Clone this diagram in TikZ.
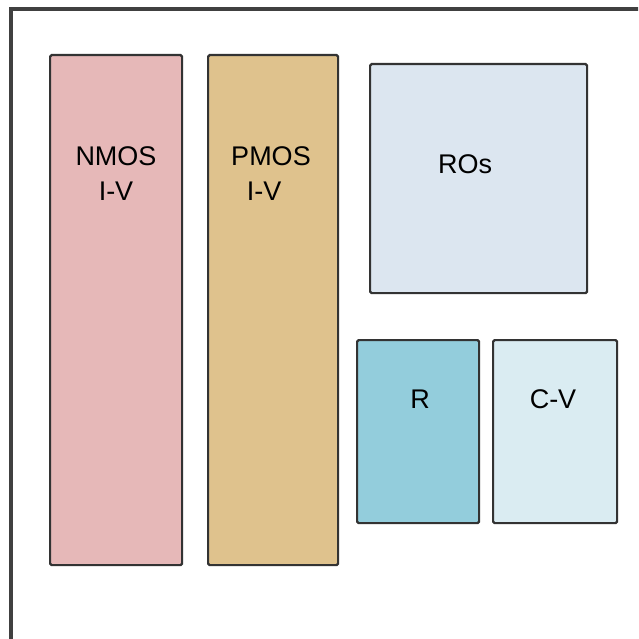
\documentclass[tikz,border=0pt]{standalone}
\usepackage{fontspec}
\setmainfont{Liberation Sans}
\begin{document}
\begin{tikzpicture}[x=1pt,y=-1pt,
  blk/.style={draw=black!80, line width=2.2pt, rounded corners=1.5pt, inner sep=0pt, anchor=north west},
  lbl/.style={font=\fontsize{27}{33}\selectfont, text=black, inner sep=0pt, align=center},
  frame/.style={draw=black!75, line width=3.2pt}]
\useasboundingbox (0,0) rectangle (638,639);
\begin{scope}
\clip (0,0) rectangle (638,639);
\coordinate (fbl) at (11,660);
\coordinate (ftl) at (11,9);
\coordinate (ftr) at (660,9);
\draw[frame] (fbl) -- (ftl) -- (ftr);
\end{scope}
\node[blk, fill={rgb,255:red,230;green,184;blue,184}, minimum width=132pt, minimum height=510pt] (nmos) at (49,54) {};
\node[blk, fill={rgb,255:red,223;green,194;blue,141}, minimum width=130pt, minimum height=510pt] (pmos) at (207,54) {};
\node[blk, fill={rgb,255:red,220;green,230;blue,240}, minimum width=217pt, minimum height=229pt] (ros) at (369,63) {};
\node[blk, fill={rgb,255:red,147;green,205;blue,220}, minimum width=122pt, minimum height=183pt] (r) at (356,339) {};
\node[blk, fill={rgb,255:red,218;green,236;blue,242}, minimum width=124pt, minimum height=183pt] (cv) at (492,339) {};
\node[lbl, anchor=base] (t1) at (116,165) {NMOS};
\node[lbl, anchor=base] (t2) at (116,200) {I-V};
\node[lbl, anchor=base] (t3) at (271,165) {PMOS};
\node[lbl, anchor=base] (t4) at (264,200) {I-V};
\node[lbl, anchor=base] (t5) at (465,173) {ROs};
\node[lbl, anchor=base] (t6) at (420,408) {R};
\node[lbl, anchor=base] (t7) at (553,408) {C-V};
\end{tikzpicture}
\end{document}
